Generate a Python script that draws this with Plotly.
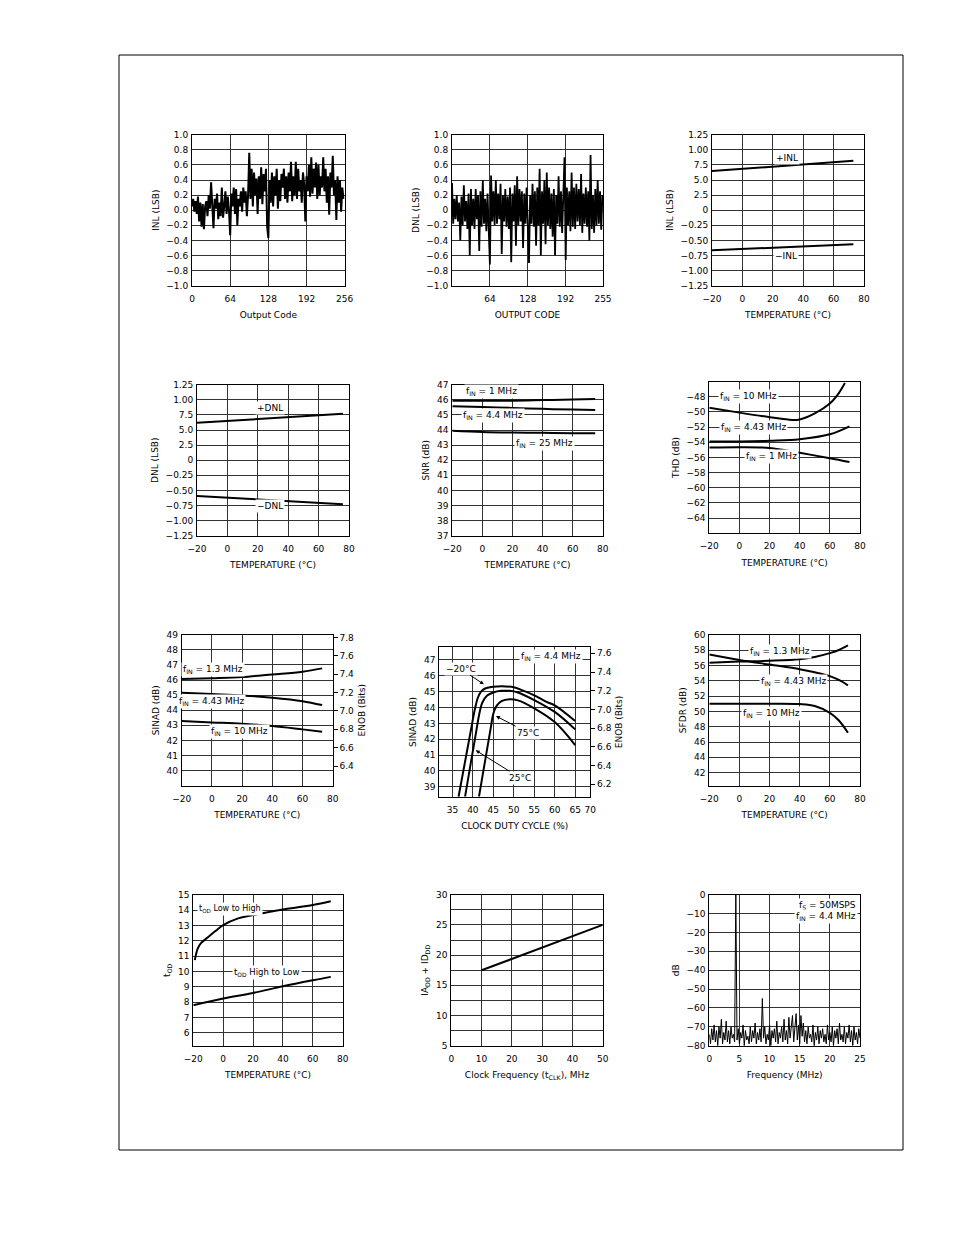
import plotly.graph_objects as go

W, H = 954, 1235
FONT = "DejaVu Sans"
FS = 9

# ---------------- data ----------------
inl_code = list(range(0, 256, 2))
inl_vals = [0.05, 0.15, -0.02, 0.12, -0.05, 0.18, -0.15, 0.10, -0.22, 0.08, -0.25, 0.05, 0.12, -0.08, 0.20, 0.02,
            0.37, -0.05, -0.24, 0.15, 0.02, 0.22, -0.12, 0.10, -0.08, 0.30, -0.10, 0.05, 0.25, -0.05, 0.18, 0.00,
            -0.33, 0.22, 0.05, 0.30, -0.05, 0.28, -0.20, 0.15, 0.05, 0.25, -0.02, 0.30, 0.10, 0.25, -0.08, 0.20,
            0.76, 0.15, 0.55, 0.05, 0.50, 0.20, 0.42, -0.05, 0.45, 0.15, 0.57, 0.08, 0.48, 0.25, 0.55, -0.22,
            -0.37, 0.40, 0.10, 0.50, 0.05, 0.45, 0.20, 0.55, 0.02, 0.40, 0.12, 0.48, 0.30, 0.55, 0.15, 0.45,
            0.10, 0.50, 0.25, 0.64, 0.12, 0.45, 0.20, 0.64, 0.15, 0.55, 0.25, 0.40, 0.10, 0.50, 0.35, -0.15,
            0.45, 0.25, 0.60, 0.18, 0.70, 0.22, 0.55, 0.30, 0.63, 0.15, 0.60, 0.20, 0.45, 0.30, 0.70, 0.25,
            0.55, 0.10, 0.45, -0.06, 0.50, 0.30, 0.72, 0.20, 0.40, -0.13, 0.45, 0.10, 0.40, -0.02, 0.30, 0.15]

dnl_code = list(range(0, 256, 2))
dnl_vals = [0.36, -0.18, 0.15, -0.12, 0.20, -0.15, 0.10, -0.40, 0.18, -0.20, 0.33, -0.15, 0.12, -0.25, 0.22, -0.60,
            0.28, -0.20, 0.15, -0.25, 0.28, -0.12, 0.20, -0.54, 0.25, -0.22, 0.40, -0.18, 0.15, -0.28, 0.22, -0.15,
            -0.72, 0.46, -0.15, 0.25, -0.20, 0.40, -0.18, 0.22, -0.12, 0.35, -0.58, 0.20, -0.15, 0.28, -0.22, 0.18,
            -0.25, 0.30, -0.69, 0.22, -0.15, 0.33, -0.47, 0.45, -0.20, 0.28, -0.15, 0.25, -0.50, 0.22, -0.18, 0.30,
            -0.25, -0.70, 0.20, -0.18, 0.35, -0.22, 0.25, -0.47, 0.30, -0.20, 0.55, -0.60, 0.25, -0.18, 0.40, -0.45,
            0.50, -0.20, 0.30, -0.25, 0.22, -0.35, 0.28, -0.60, 0.20, -0.18, 0.45, -0.22, 0.25, -0.30, 0.20, 0.70,
            -0.66, 0.30, -0.20, 0.25, -0.28, 0.50, -0.22, 0.30, -0.25, 0.35, -0.15, 0.28, -0.20, 0.48, -0.30, 0.22,
            -0.18, 0.30, -0.22, 0.25, -0.40, 0.73, -0.25, 0.20, -0.30, 0.28, -0.20, 0.40, -0.18, 0.25, -0.26, 0.20]

temp_lin = [-20, 73]
inl_pos = [0.647, 0.819]
inl_neg = [-0.664, -0.564]
temp_dnl = [-20, 76]
dnl_pos = [0.619, 0.769]
dnl_neg = [-0.592, -0.730]

snr_temp = [-20, 0, 20, 40, 60, 75]
snr_1mhz = [45.94, 45.93, 45.94, 45.98, 46.02, 46.05]
snr_4mhz = [45.57, 45.52, 45.46, 45.40, 45.35, 45.32]
snr_25mhz = [43.95, 43.87, 43.83, 43.81, 43.79, 43.78]

thd_temp = [-20, 0, 20, 35, 40, 50, 60, 65, 70]
thd_10mhz = [-49.45, -50.1, -50.7, -51.07, -51.0, -50.2, -48.9, -47.8, -46.2]
thd_temp2 = [-20, 0, 20, 40, 60, 73]
thd_4mhz = [-53.9, -53.9, -53.8, -53.6, -52.95, -51.9]
thd_1mhz = [-54.7, -54.65, -54.75, -55.4, -56.1, -56.6]

sinad_temp = [-20, 0, 20, 40, 60, 73]
sinad_13 = [46.06, 46.12, 46.20, 46.37, 46.55, 46.77]
sinad_443 = [45.16, 45.07, 44.98, 44.83, 44.60, 44.34]
sinad_10 = [43.28, 43.19, 43.10, 42.95, 42.73, 42.58]

duty_m20 = [36.5, 38.0, 39.5, 40.5, 41.2, 42.0, 43.0, 44.5, 46.0, 48.0, 50.0, 52.0, 55.0, 58.0, 60.0, 65.0]
sinad_m20 = [38.37, 40.45, 42.53, 43.9, 44.6, 45.0, 45.2, 45.3, 45.33, 45.33, 45.28, 45.1, 44.77, 44.35, 44.14, 43.15]
duty_25 = [38.1, 39.5, 40.7, 41.5, 42.3, 43.5, 45.0, 47.0, 49.0, 51.0, 55.0, 60.0, 65.0]
sinad_25 = [38.37, 40.5, 42.3, 43.5, 44.3, 44.75, 44.95, 45.05, 45.05, 44.95, 44.47, 43.72, 42.62]
duty_75 = [41.5, 43.0, 44.3, 45.0, 45.8, 47.0, 49.0, 51.0, 55.0, 60.0, 65.0]
sinad_75 = [38.37, 40.65, 42.6, 43.6, 44.1, 44.4, 44.52, 44.45, 43.95, 43.08, 41.63]

sfdr_temp = [-20, 0, 20, 40, 50, 60, 66, 72]
sfdr_13 = [56.35, 56.5, 56.6, 56.8, 57.1, 57.6, 58.0, 58.6]
sfdr_443 = [57.43, 56.7, 56.1, 55.5, 55.1, 54.6, 54.1, 53.4]
sfdr_10 = [51.0, 51.0, 51.0, 50.95, 50.7, 49.8, 48.8, 47.2]

tod_temp_lh = [-19, -17, -15, -10, -5, 0, 10, 20, 40, 60, 72]
tod_lh = [10.74, 11.5, 11.83, 12.25, 12.65, 13.02, 13.46, 13.67, 14.04, 14.33, 14.57]
tod_temp_hl = [-20, 0, 20, 40, 60, 72]
tod_hl = [7.8, 8.24, 8.6, 9.04, 9.43, 9.65]

clk_freq = [10, 50]
idd = [17.5, 25.0]

fft_freq = [i * 0.2 for i in range(126)]
fft_db = [-74, -79, -71, -77, -69, -78, -72, -80, -70, -76, -66, -79, -73, -77, -67, -78,
          -72, -79, -70, -76, -74, -78, 0, -77, -71, -79, -73, -76, -69, -80, -72, -77,
          -75, -79, -70, -78, -72, -76, -68, -79, -73, -77, -71, -78, -55, -76, -70, -79,
          -74, -77, -69, -80, -72, -76, -71, -78, -67, -79, -73, -76, -70, -78, -66, -77,
          -72, -79, -65, -76, -70, -64, -78, -71, -63, -77, -69, -79, -64, -75, -68, -78,
          -72, -79, -70, -76, -74, -78, -69, -80, -73, -77, -70, -79, -72, -76, -71, -78,
          -74, -79, -69, -77, -73, -78, -70, -80, -72, -76, -71, -79, -68, -77, -74, -78,
          -70, -79, -73, -76, -69, -78, -72, -80, -70, -77, -73, -79, -71, -76]

# ---------------- layout helpers ----------------
boxes = {
    1: (192, 344.7, 134.7, 285.7),
    2: (452, 603, 134.7, 285.7),
    3: (712, 864, 134.7, 285.7),
    4: (197, 349, 384.7, 535.7),
    5: (452.3, 602.7, 384.7, 535.7),
    6: (709.3, 860, 381.5, 533.3),
    7: (181.7, 332.7, 634.7, 785.7),
    8: (439.3, 590.3, 647.3, 796.7),
    9: (709.3, 860, 634.7, 785.7),
    10: (193.3, 342.7, 894.7, 1045.7),
    11: (451.3, 602.7, 894.7, 1045.7),
    12: (709.3, 860, 894.7, 1045.7),
}


def sfx(i):
    return "" if i == 1 else str(i)


tickfont = dict(family=FONT, size=FS, color="black")
titlefont = dict(family=FONT, size=FS, color="black")
GRID = "#333333"


def base_axis():
    return dict(showline=True, linecolor="black", linewidth=1, mirror=True, automargin=False,
                showgrid=True, gridcolor=GRID, gridwidth=1, zeroline=False,
                ticks="", tickfont=tickfont)


layout = dict(template="none", width=W, height=H,
              margin=dict(l=0, r=0, t=0, b=0, pad=0, autoexpand=False), autosize=False,
              paper_bgcolor="white", plot_bgcolor="white", showlegend=False,
              font=dict(family=FONT, size=FS, color="black"))

TEMP = "TEMPERATURE (°C)"
temp_ticks = [-20, 0, 20, 40, 60, 80]
lsb_vals = [1.25, 1.0, 0.75, 0.5, 0.25, 0, -0.25, -0.5, -0.75, -1.0, -1.25]
lsb_text = ["1.25", "1.00", "7.5", "5.0", "2.5", "0", "−0.25", "−0.50", "−0.75", "−1.00", "−1.25"]

axcfg = {
    1: (dict(range=[0, 256], tickvals=[0, 64, 128, 192, 256], title="Output Code"),
        dict(range=[-1, 1], tickvals=[round(-1 + 0.2 * k, 1) for k in range(11)], tickformat=".1f", title="INL (LSB)")),
    2: (dict(range=[0, 255], tickvals=[64, 128, 192, 255], title="OUTPUT CODE"),
        dict(range=[-1, 1], tickvals=[round(-1 + 0.2 * k, 1) for k in range(11)],
             ticktext=["−1.0", "−0.8", "−0.6", "−0.4", "−0.2", "0", "0.2", "0.4", "0.6", "0.8", "1.0"], title="DNL (LSB)")),
    3: (dict(range=[-20, 80], tickvals=temp_ticks, title=TEMP),
        dict(range=[-1.25, 1.25], tickvals=lsb_vals, ticktext=lsb_text, title="INL (LSB)")),
    4: (dict(range=[-20, 80], tickvals=temp_ticks, title=TEMP),
        dict(range=[-1.25, 1.25], tickvals=lsb_vals, ticktext=lsb_text, title="DNL (LSB)")),
    5: (dict(range=[-20, 80], tickvals=temp_ticks, title=TEMP),
        dict(range=[37, 47], tickvals=list(range(37, 48)), title="SNR (dB)")),
    6: (dict(range=[-20, 80], tickvals=temp_ticks, title=TEMP),
        dict(range=[-66, -46], tickvals=list(range(-64, -47, 2)), title="THD (dB)")),
    7: (dict(range=[-20, 80], tickvals=temp_ticks, title=TEMP),
        dict(range=[39, 49], tickvals=list(range(40, 50)), title="SINAD (dB)")),
    8: (dict(range=[31.8, 68.7], tickvals=[35, 40, 45, 50, 55, 60, 65, 68.7],
             ticktext=["35", "40", "45", "50", "55", "60", "65", "70"], title="CLOCK DUTY CYCLE (%)"),
        dict(range=[38.37, 47.8], tickvals=list(range(39, 48)), title="SINAD (dB)")),
    9: (dict(range=[-20, 80], tickvals=temp_ticks, title=TEMP),
        dict(range=[40.3, 60], tickvals=list(range(42, 61, 2)), title="SFDR (dB)")),
    10: (dict(range=[-20, 80], tickvals=temp_ticks, title=TEMP),
         dict(range=[5.17, 15], tickvals=list(range(6, 16)), title="t<sub>OD</sub>")),
    11: (dict(range=[0, 50], tickvals=[0, 10, 20, 30, 40, 50], title="Clock Frequency (t<sub>CLK</sub>), MHz"),
         dict(range=[5, 30], tick0=5, dtick=5,
              minor=dict(dtick=2.5, showgrid=True, gridcolor=GRID, gridwidth=1),
              title="IA<sub>DD</sub> + ID<sub>DD</sub>")),
    12: (dict(range=[0, 25], tickvals=[0, 5, 10, 15, 20, 25], title="Frequency (MHz)"),
         dict(range=[-80, 0], tickvals=list(range(-80, 1, 10)), title="dB")),
}

for i, (xc, yc) in axcfg.items():
    l, r, t, b = boxes[i]
    xa = base_axis()
    ya = base_axis()
    xt = xc.pop("title")
    yt = yc.pop("title")
    xa.update(xc)
    ya.update(yc)
    xa.update(domain=[l / W, r / W], anchor="y" + sfx(i), ticklabelstandoff=4,
              title=dict(text=xt, font=titlefont, standoff=9))
    ya.update(domain=[1 - b / H, 1 - t / H], anchor="x" + sfx(i), ticklabelstandoff=1,
              title=dict(text=yt, font=titlefont, standoff=5))
    layout["xaxis" + sfx(i)] = xa
    layout["yaxis" + sfx(i)] = ya

# right-side ENOB axes
for key, over, anc, rng, vals in [("yaxis13", "y7", "x7", [6.186, 7.829], [6.4, 6.6, 6.8, 7.0, 7.2, 7.4, 7.6, 7.8]),
                                  ("yaxis14", "y8", "x8", [6.068, 7.664], [6.2, 6.4, 6.6, 6.8, 7.0, 7.2, 7.4, 7.6])]:
    layout[key] = dict(overlaying=over, side="right", anchor=anc, range=rng, automargin=False,
                       tickvals=vals, tickformat=".1f",
                       ticks="outside", ticklen=4, tickcolor="black", showgrid=False, zeroline=False,
                       showline=False, tickfont=tickfont,
                       title=dict(text="ENOB (Bits)", font=titlefont, standoff=5))

fig = go.Figure(layout=layout)


def line(x, y, i, width=2, shape="linear", yax=None):
    fig.add_trace(go.Scatter(x=x, y=y, mode="lines", line=dict(color="black", width=width, shape=shape),
                             xaxis="x" + sfx(i), yaxis=yax or ("y" + sfx(i)), hoverinfo="skip"))


line(inl_code, inl_vals, 1, width=2)
line(dnl_code, dnl_vals, 2, width=1.8)
line(temp_lin, inl_pos, 3)
line(temp_lin, inl_neg, 3)
line(temp_dnl, dnl_pos, 4)
line(temp_dnl, dnl_neg, 4)
line(snr_temp, snr_1mhz, 5, shape="spline")
line(snr_temp, snr_4mhz, 5, shape="spline")
line(snr_temp, snr_25mhz, 5, shape="spline")
line(thd_temp, thd_10mhz, 6, shape="spline")
line(thd_temp2, thd_4mhz, 6, shape="spline")
line(thd_temp2, thd_1mhz, 6, shape="spline")
line(sinad_temp, sinad_13, 7, shape="spline")
line(sinad_temp, sinad_443, 7, shape="spline")
line(sinad_temp, sinad_10, 7, shape="spline")
line(duty_m20, sinad_m20, 8, shape="spline")
line(duty_25, sinad_25, 8, shape="spline")
line(duty_75, sinad_75, 8, shape="spline")
line(sfdr_temp, sfdr_13, 9, shape="spline")
line(sfdr_temp, sfdr_443, 9, shape="spline")
line(sfdr_temp, sfdr_10, 9, shape="spline")
line(tod_temp_lh, tod_lh, 10, shape="spline")
line(tod_temp_hl, tod_hl, 10, shape="spline")
line(clk_freq, idd, 11)
line(fft_freq, fft_db, 12, width=1)

# invisible traces so the overlay ENOB axes render
fig.add_trace(go.Scatter(x=[-20], y=[7.0], mode="markers", marker=dict(opacity=0), xaxis="x7", yaxis="y13", hoverinfo="skip"))
fig.add_trace(go.Scatter(x=[50], y=[7.0], mode="markers", marker=dict(opacity=0), xaxis="x8", yaxis="y14", hoverinfo="skip"))


def label(i, x, y, text, xanchor="center", size=FS):
    fig.add_annotation(xref="x" + sfx(i), yref="y" + sfx(i), x=x, y=y, text=text, showarrow=False,
                       bgcolor="white", borderpad=1, xanchor=xanchor, font=dict(family=FONT, size=size, color="black"))


label(3, 29.3, 0.868, "+INL")
label(3, 29.0, -0.763, "−INL")
label(4, 28.2, 0.857, "+DNL")
label(4, 28.2, -0.763, "−DNL")
label(5, 6.1, 46.58, "f<sub>IN</sub> = 1 MHz")
label(5, 6.8, 44.99, "f<sub>IN</sub> = 4.4 MHz")
label(5, 41.5, 43.11, "f<sub>IN</sub> = 25 MHz")
label(6, 6.2, -48.0, "f<sub>IN</sub> = 10 MHz")
label(6, 9.1, -52.0, "f<sub>IN</sub> = 4.43 MHz")
label(6, 21.1, -55.9, "f<sub>IN</sub> = 1 MHz")
label(7, 0.5, 46.7, "f<sub>IN</sub> = 1.3 MHz")
label(7, -0.1, 44.56, "f<sub>IN</sub> = 4.43 MHz")
label(7, 18.2, 42.58, "f<sub>IN</sub> = 10 MHz")
label(8, 59.2, 47.25, "f<sub>IN</sub> = 4.4 MHz")
label(9, 26.7, 57.8, "f<sub>IN</sub> = 1.3 MHz")
label(9, 36.2, 53.9, "f<sub>IN</sub> = 4.43 MHz")
label(9, 21.0, 49.7, "f<sub>IN</sub> = 10 MHz")
label(10, -17.5, 14.05, "t<sub>OD</sub> Low to High", xanchor="left", size=8)
label(10, 29.0, 9.93, "t<sub>OD</sub> High to Low", size=8.5)
label(12, 24.6, -5.5, "f<sub>S</sub> = 50MSPS", xanchor="right")
label(12, 24.6, -11.7, "f<sub>IN</sub> = 4.4 MHz", xanchor="right")


def arrow_label(i, tx, ty, ax, ay, text):
    fig.add_annotation(xref="x" + sfx(i), yref="y" + sfx(i), axref="x" + sfx(i), ayref="y" + sfx(i),
                       x=tx, y=ty, ax=ax, ay=ay, text=text, showarrow=True, arrowhead=2, arrowsize=0.8,
                       arrowwidth=1, arrowcolor="black", bgcolor="white", borderpad=1,
                       font=dict(family=FONT, size=FS, color="black"))


arrow_label(8, 42.7, 45.46, 37.0, 46.45, "−20°C")
arrow_label(8, 45.65, 43.46, 53.5, 42.41, "75°C")
arrow_label(8, 40.7, 41.3, 51.5, 39.57, "25°C")

# page border
fig.add_shape(type="rect", xref="paper", yref="paper", x0=119 / W, x1=903 / W,
              y0=1 - 1150 / H, y1=1 - 55 / H, line=dict(color="black", width=1))

fig.write_html("out.html", config=dict(displayModeBar=False),
               post_script="document.body.style.margin='0';document.body.style.padding='0';"
                           "document.documentElement.style.overflow='hidden';")
